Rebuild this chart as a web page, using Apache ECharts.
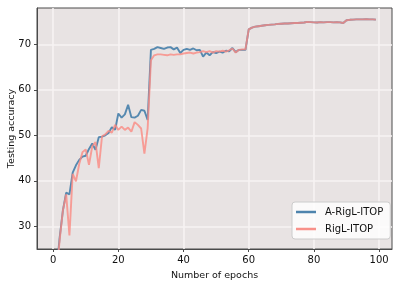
<!DOCTYPE html>
<html>
<head>
<meta charset="utf-8">
<script src="https://cdn.jsdelivr.net/npm/echarts@6/dist/echarts.min.js"></script>
<style>
html,body{margin:0;padding:0;background:#fff;}
#chart{width:399px;height:291px;}
</style>
</head>
<body>
<div id="chart"></div>
<script>
const epochs = Array.from({length: 100}, (_, i) => i);
const xTicks = [0, 20, 40, 60, 80, 100];
const yTicks = [30, 40, 50, 60, 70];

const aRigL = [
  12.0, 20.0, 27.5, 33.5, 37.4, 37.0, 41.8, 43.4, 44.6, 45.3,
  45.5, 47.0, 48.2, 46.8, 49.6, 49.7, 50.0, 50.5, 51.8, 51.2,
  54.8, 53.9, 54.6, 56.7, 54.0, 53.9, 54.3, 55.6, 55.4, 53.4,
  68.8, 69.0, 69.4, 69.2, 69.0, 69.3, 69.4, 68.9, 69.3, 68.1,
  68.8, 69.0, 68.8, 69.1, 68.7, 68.8, 67.3, 68.2, 67.6, 68.3,
  68.1, 68.4, 68.2, 68.6, 68.5, 69.2, 68.3, 68.8, 68.8, 68.8,
  73.3, 73.7, 73.9, 74.0, 74.1, 74.2, 74.3, 74.35, 74.4, 74.5,
  74.55, 74.6, 74.6, 74.65, 74.7, 74.7, 74.75, 74.8, 74.95, 74.9,
  74.85, 74.8, 74.9, 74.85, 74.9, 74.9, 74.85, 74.9, 74.85, 74.7,
  75.3, 75.4, 75.45, 75.5, 75.5, 75.5, 75.55, 75.5, 75.5, 75.45
];

const rigL = [
  10.0, 19.0, 27.0, 33.5, 37.0, 28.0, 41.5, 39.9, 43.7, 46.3,
  46.9, 43.5, 47.6, 48.5, 42.8, 49.8, 50.2, 51.0, 50.6, 52.3,
  51.2, 51.9, 51.2, 51.7, 50.8, 52.9, 52.3, 51.5, 46.0, 51.6,
  66.5, 67.6, 67.8, 67.8, 67.7, 67.6, 67.8, 67.7, 67.8, 67.8,
  68.0, 68.1, 68.2, 68.0, 68.2, 68.3, 68.5, 68.3, 68.5, 68.2,
  68.5, 68.4, 68.6, 68.4, 68.7, 69.1, 68.2, 68.8, 68.9, 68.9,
  73.3, 73.7, 73.9, 74.0, 74.1, 74.2, 74.3, 74.35, 74.4, 74.5,
  74.55, 74.6, 74.6, 74.65, 74.7, 74.7, 74.75, 74.8, 74.95, 74.9,
  74.85, 74.8, 74.9, 74.85, 74.9, 74.9, 74.85, 74.9, 74.85, 74.7,
  75.3, 75.4, 75.45, 75.5, 75.5, 75.5, 75.55, 75.5, 75.5, 75.45
];

const seriesNames = ['A-RigL-ITOP', 'RigL-ITOP'];

const FONT = 'DejaVu Sans';
const TXT = '#111111';
const chart = echarts.init(document.getElementById('chart'), null, {renderer: 'canvas'});

chart.setOption({
  animation: false,
  backgroundColor: '#ffffff',
  textStyle: {fontFamily: FONT},
  grid: {
    left: 37, top: 8, right: 7, bottom: 42,
    outerBoundsMode: 'none',
    containLabel: false,
    show: true,
    backgroundColor: '#e8e3e3',
    borderColor: '#4a4a4a',
    borderWidth: 1
  },
  legend: {
    data: seriesNames,
    orient: 'vertical',
    left: 292, top: 202,
    padding: [5, 7, 5, 4],
    itemGap: 7,
    itemWidth: 20,
    itemHeight: 2.5,
    icon: 'rect',
    backgroundColor: 'rgba(255,255,255,0.8)',
    borderColor: '#cccccc',
    borderWidth: 1,
    borderRadius: 3,
    textStyle: {fontFamily: FONT, fontSize: 10, color: TXT, padding: [0, 0, 0, 4]}
  },
  xAxis: {
    type: 'value',
    min: -4.95, max: 103.95,
    name: 'Number of epochs',
    nameLocation: 'middle',
    nameGap: 22,
    nameMoveOverlap: false,
    nameTextStyle: {fontFamily: FONT, fontSize: 9.5, color: TXT},
    axisLine: {show: true, onZero: false, lineStyle: {color: '#4a4a4a', width: 1}},
    axisTick: {show: true, length: 3, customValues: xTicks, lineStyle: {color: '#4a4a4a'}},
    axisLabel: {customValues: xTicks, fontFamily: FONT, fontSize: 10, color: TXT, margin: 6},
    splitLine: {show: true, lineStyle: {color: '#f7f3f3', width: 1.6}}
  },
  yAxis: {
    type: 'value',
    min: 25, max: 78,
    name: 'Testing accuracy',
    nameLocation: 'middle',
    nameGap: 20,
    nameMoveOverlap: false,
    nameTextStyle: {fontFamily: FONT, fontSize: 9.5, color: TXT},
    axisLine: {show: true, onZero: false, lineStyle: {color: '#4a4a4a', width: 1}},
    axisTick: {show: true, length: 3, customValues: yTicks, lineStyle: {color: '#4a4a4a'}},
    axisLabel: {customValues: yTicks, fontFamily: FONT, fontSize: 10, color: TXT, margin: 6},
    splitLine: {show: true, lineStyle: {color: '#f7f3f3', width: 1.6}}
  },
  series: [
    {
      name: seriesNames[0],
      type: 'line',
      symbol: 'none',
      clip: true,
      data: epochs.map((e, i) => [e, aRigL[i]]),
      itemStyle: {color: '#4e84ad'},
      lineStyle: {color: '#4e84ad', width: 1.9, opacity: 0.95},
      z: 2
    },
    {
      name: seriesNames[1],
      type: 'line',
      symbol: 'none',
      clip: true,
      data: epochs.map((e, i) => [e, rigL[i]]),
      itemStyle: {color: '#f8918a'},
      lineStyle: {color: '#fa8a82', width: 1.9, opacity: 0.8},
      z: 3
    }
  ]
});
</script>
</body>
</html>
